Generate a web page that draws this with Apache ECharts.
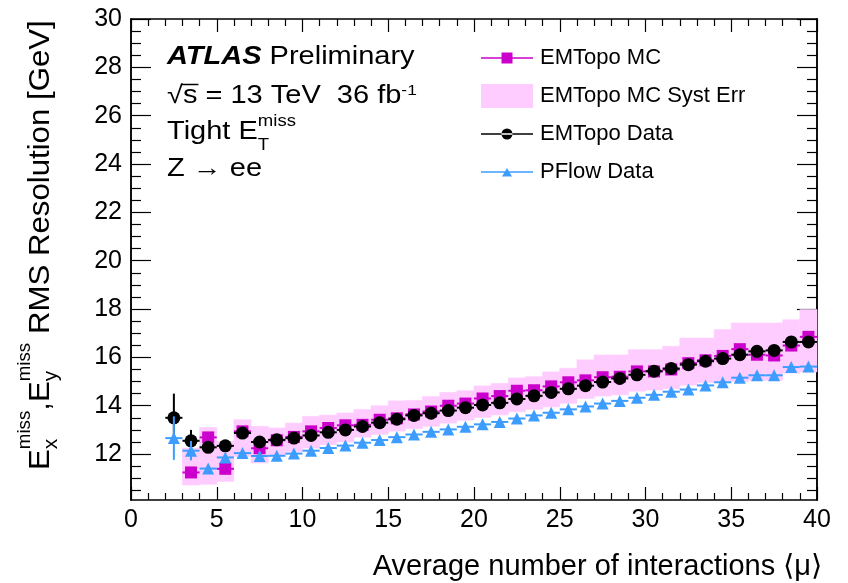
<!DOCTYPE html>
<html>
<head>
<meta charset="utf-8">
<script src="https://cdn.jsdelivr.net/npm/echarts@6/dist/echarts.min.js"></script>
<style>
html, body { margin: 0; background: #fff; }
#chart { width: 848px; height: 583px; }
</style>
</head>
<body>
<div id="chart"></div>
<script>
// bin centres of <mu>
const mu = [2.5, 3.5, 4.5, 5.5, 6.5, 7.5, 8.5, 9.5, 10.5, 11.5, 12.5, 13.5, 14.5, 15.5, 16.5, 17.5, 18.5, 19.5, 20.5,
	21.5, 22.5, 23.5, 24.5, 25.5, 26.5, 27.5, 28.5, 29.5, 30.5, 31.5, 32.5, 33.5, 34.5, 35.5, 36.5, 37.5, 38.5, 39.5]

const emtopoMC = [null, 11.24, 12.69, 11.39, 12.94, 12.24, 12.57, 12.71, 12.94, 13.08, 13.19, 13.21, 13.42, 13.48, 13.64,
	13.76, 14.0, 14.09, 14.3, 14.4, 14.62, 14.64, 14.8, 14.97, 15.05, 15.18, 15.2, 15.42, 15.42, 15.5, 15.76, 15.88, 16.06,
	16.34, 16.11, 16.08, 16.49, 16.85]

const mcSystLow = [null, 10.72, 10.75, 10.87, 11.9, 11.63, 11.9, 12.1, 12.25, 12.39, 12.5, 12.7, 12.82, 12.95, 13.05,
	13.15, 13.28, 13.4, 13.52, 13.62, 13.75, 13.85, 13.95, 14.1, 14.3, 14.4, 14.45, 14.6, 14.65, 14.7, 14.85, 14.95, 15.0,
	15.0, 15.05, 15.05, 15.35, 15.4]
const mcSystHigh = [null, 12.25, 13.1, 12.52, 13.42, 13.15, 13.08, 13.28, 13.56, 13.61, 13.7, 13.85, 14.0, 14.2, 14.22,
	14.38, 14.55, 14.62, 14.82, 14.92, 15.15, 15.2, 15.4, 15.55, 15.9, 16.1, 16.1, 16.32, 16.32, 16.46, 16.8, 16.8, 17.15,
	17.42, 17.42, 17.42, 17.56, 17.98]

const emtopoData = [13.5, 12.55, 12.28, 12.34, 12.87, 12.5, 12.59, 12.66, 12.77, 12.9, 13.0, 13.14, 13.3, 13.44, 13.6,
	13.69, 13.8, 13.92, 14.03, 14.12, 14.28, 14.41, 14.55, 14.7, 14.83, 14.98, 15.13, 15.28, 15.43, 15.54, 15.7, 15.84,
	15.95, 16.11, 16.25, 16.29, 16.64, 16.64]
const emtopoDataErr = [1.0, 0.45, 0.12, 0.1, 0.08, 0.06, 0.05, 0.05, 0.05, 0.05, 0.05, 0.05, 0.05, 0.05, 0.05, 0.05, 0.05,
	0.05, 0.05, 0.05, 0.05, 0.05, 0.05, 0.05, 0.05, 0.05, 0.05, 0.05, 0.05, 0.05, 0.05, 0.05, 0.05, 0.05, 0.05, 0.05, 0.05, 0.05]

const pflowData = [12.66, 12.14, 11.4, 11.86, 12.04, 11.92, 11.93, 12.02, 12.14, 12.25, 12.35, 12.47, 12.58, 12.7, 12.81,
	12.92, 13.02, 13.13, 13.23, 13.33, 13.47, 13.6, 13.71, 13.85, 13.97, 14.09, 14.2, 14.33, 14.45, 14.58, 14.67, 14.84,
	14.97, 15.16, 15.26, 15.26, 15.6, 15.62]
const pflowDataErr = [0.9, 0.4, 0.12, 0.1, 0.08, 0.06, 0.05, 0.05, 0.05, 0.05, 0.05, 0.05, 0.05, 0.05, 0.05, 0.05, 0.05,
	0.05, 0.05, 0.05, 0.05, 0.05, 0.05, 0.05, 0.05, 0.05, 0.05, 0.05, 0.05, 0.05, 0.05, 0.05, 0.05, 0.05, 0.05, 0.05, 0.05, 0.05]

const yMajorTicks = [12, 14, 16, 18, 20, 22, 24, 26, 28, 30]
const yMinorTicks = [10.5, 11, 11.5, 12.5, 13, 13.5, 14.5, 15, 15.5, 16.5, 17, 17.5, 18.5, 19, 19.5, 20.5, 21, 21.5,
	22.5, 23, 23.5, 24.5, 25, 25.5, 26.5, 27, 27.5, 28.5, 29, 29.5]

const FONT = '"Liberation Sans", Arial, Helvetica, sans-serif'
const MAGENTA = '#cc00cc'
const PINK = '#ffccff'
const BLUE = '#3d9dff'
const BIN_HALF = 0.5

const ctx = document.createElement('canvas').getContext('2d')
function textWidth(str, size, style) {
	ctx.font = `${style || ''} ${size}px ${FONT}`
	return ctx.measureText(str).width
}

const chart = echarts.init(document.getElementById('chart'), null, { renderer: 'canvas' })

function errorBarSeries(name, color, values, errs, z) {
	return {
		type: 'custom',
		name,
		z,
		silent: true,
		renderItem(params, api) {
			const x = api.value(0)
			const y = api.value(1)
			const e = api.value(2)
			const l = api.coord([x - BIN_HALF, y])
			const r = api.coord([x + BIN_HALF, y])
			const t = api.coord([x, y + e])
			const b = api.coord([x, y - e])
			return {
				type: 'group',
				children: [
					{ type: 'line', shape: { x1: l[0], y1: l[1], x2: r[0], y2: r[1] }, style: { stroke: color, lineWidth: 2 } },
					{ type: 'line', shape: { x1: t[0], y1: t[1], x2: b[0], y2: b[1] }, style: { stroke: color, lineWidth: 2 } },
				],
			}
		},
		encode: { x: 0, y: 1 },
		data: mu.map((m, i) => [m, values[i], errs ? errs[i] : 0]).filter(d => d[1] != null),
	}
}

function markerSeries(name, color, symbol, size, values, z) {
	return {
		type: 'scatter',
		name,
		z,
		symbol,
		symbolSize: size,
		itemStyle: { color, opacity: 1 },
		data: mu.map((m, i) => [m, values[i]]).filter(d => d[1] != null),
	}
}

const tickAxisY = (position, customValues, length, withLabels) => ({
	type: 'value',
	position,
	min: 10.1,
	max: 30,
	axisLine: { show: true, lineStyle: { color: '#000', width: 1.5 } },
	axisTick: { show: true, inside: true, length, customValues, lineStyle: { color: '#000', width: 1.2 } },
	axisLabel: withLabels
		? { show: true, customValues, fontSize: 25, fontFamily: FONT, color: '#000', margin: 9 }
		: { show: false },
	splitLine: { show: false },
})

const tickAxisX = (position, withLabels) => ({
	type: 'value',
	position,
	min: 0,
	max: 40,
	interval: 5,
	axisLine: { show: true, lineStyle: { color: '#000', width: 1.5 } },
	axisTick: { show: true, inside: true, length: 13, lineStyle: { color: '#000', width: 1.2 } },
	minorTick: { show: true, splitNumber: 5, length: 7, lineStyle: { color: '#000', width: 1.2 } },
	axisLabel: withLabels ? { show: true, fontSize: 25, fontFamily: FONT, color: '#000', margin: 8 } : { show: false },
	splitLine: { show: false },
	minorSplitLine: { show: false },
})

// y axis title, drawn bottom-to-top, with stacked sub/superscripts
const Y_T = 30, SUB = 20, SUP = 18
const yTitleParts = []
let run = 0
function addMain(str) {
	yTitleParts.push({ type: 'text', x: run, y: -11, style: { text: str, font: `${Y_T}px ${FONT}`, fill: '#000', verticalAlign: 'middle' } })
	run += textWidth(str, Y_T)
}
function addSubSup(sub, sup) {
	yTitleParts.push({ type: 'text', x: run, y: -1, style: { text: sub, font: `${SUB}px ${FONT}`, fill: '#000', verticalAlign: 'middle' } })
	yTitleParts.push({ type: 'text', x: run, y: -27, style: { text: sup, font: `${SUP}px ${FONT}`, fill: '#000', verticalAlign: 'middle' } })
	run += Math.max(textWidth(sub, SUB), textWidth(sup, SUP))
}
addMain('E'); addSubSup('x', 'miss'); addMain(',')
addMain('E'); addSubSup('y', 'miss'); addMain(' RMS Resolution [GeV]')

// plot annotations: the reference face is wider than Liberation Sans, so stretch horizontally
const ANN = 25
const WIDE = 1.16
const AX = 167
const tightW = textWidth('Tight E', ANN) * WIDE
const sqrtW = textWidth('√', ANN) * WIDE
const sqrtSW = textWidth('√s', ANN) * WIDE
const annText = (text, y, extra) => ({
	type: 'text', x: AX, y, scaleX: WIDE,
	style: Object.assign({ text, font: `${ANN}px ${FONT}`, fill: '#000', verticalAlign: 'middle' }, extra || {}),
})

const option = {
	animation: false,
	backgroundColor: '#fff',
	grid: { left: 131, right: 31, top: 19, bottom: 83 },
	xAxis: [tickAxisX('bottom', true), tickAxisX('top', false)],
	yAxis: [
		tickAxisY('left', yMajorTicks, 20, true),
		tickAxisY('left', yMinorTicks, 10, false),
		tickAxisY('right', yMajorTicks, 20, false),
		tickAxisY('right', yMinorTicks, 10, false),
	],
	legend: {
		orient: 'vertical',
		left: 476,
		top: 41,
		itemWidth: 52,
		itemHeight: 24,
		itemGap: 14,
		selectedMode: false,
		textStyle: { fontSize: 22, fontFamily: FONT, color: '#000', padding: [0, 0, 0, 2] },
		data: [
			{ name: 'EMTopo MC', icon: 'path://M0,0M52,24M0,11.2h52v1.6h-52zM20.5,6.5h11v11h-11z', itemStyle: { color: MAGENTA } },
			{ name: 'EMTopo MC Syst Err', icon: 'rect', itemStyle: { color: PINK } },
			{ name: 'EMTopo Data', icon: 'path://M0,0M52,24M0,11.2h52v1.6h-52zM20.5,12a5.5,5.5 0 1,0 11,0a5.5,5.5 0 1,0 -11,0z', itemStyle: { color: '#000' } },
			{ name: 'PFlow Data', icon: 'path://M0,0M52,24M0,11.2h52v1.6h-52zM21,16.5L26,8L31,16.5z', itemStyle: { color: BLUE } },
		],
	},
	graphic: [
		annText('{b|ATLAS} {n|Preliminary}', 57, { rich: {
			b: { font: `italic bold ${ANN}px ${FONT}`, fill: '#000' },
			n: { font: `${ANN}px ${FONT}`, fill: '#000' },
		} }),
		annText('√s = 13 TeV  36 fb{s|-1}', 96, { rich: { s: { font: `15px ${FONT}`, verticalAlign: 'top', fill: '#000' } } }),
		{ type: 'line', shape: { x1: AX + sqrtW - 1, y1: 84.5, x2: AX + sqrtSW + 1, y2: 84.5 }, style: { stroke: '#000', lineWidth: 1.5 } },
		annText('Tight E', 132),
		{ type: 'text', x: AX + tightW, y: 122, scaleX: WIDE, style: { text: 'miss', font: `16px ${FONT}`, fill: '#000', verticalAlign: 'middle' } },
		{ type: 'text', x: AX + tightW, y: 146, scaleX: WIDE, style: { text: 'T', font: `16px ${FONT}`, fill: '#000', verticalAlign: 'middle' } },
		annText('Z → ee', 169),
		{ type: 'text', x: 822, y: 567, style: { text: 'Average number of interactions ⟨μ⟩', font: `29px ${FONT}`, fill: '#000', align: 'right', verticalAlign: 'middle' } },
		{ type: 'group', x: 52, y: 470, rotation: Math.PI / 2, scaleX: 1.04, children: yTitleParts },
	],
	series: [
		{
			type: 'custom',
			name: 'EMTopo MC Syst Err',
			z: 1,
			silent: true,
			renderItem(params, api) {
				const x = api.value(0)
				const tl = api.coord([x - BIN_HALF, api.value(2)])
				const br = api.coord([x + BIN_HALF, api.value(1)])
				return {
					type: 'rect',
					shape: { x: tl[0], y: tl[1], width: br[0] - tl[0], height: br[1] - tl[1] },
					style: { fill: PINK, stroke: PINK, lineWidth: 0.6 },
				}
			},
			encode: { x: 0, y: [1, 2] },
			data: mu.map((m, i) => [m, mcSystLow[i], mcSystHigh[i]]).filter(d => d[1] != null),
		},
		errorBarSeries('EMTopo MC', MAGENTA, emtopoMC, null, 2),
		markerSeries('EMTopo MC', MAGENTA, 'rect', 12, emtopoMC, 3),
		errorBarSeries('EMTopo Data', '#000', emtopoData, emtopoDataErr, 4),
		markerSeries('EMTopo Data', '#000', 'circle', 13, emtopoData, 5),
		errorBarSeries('PFlow Data', BLUE, pflowData, pflowDataErr, 6),
		markerSeries('PFlow Data', BLUE, 'triangle', 12, pflowData, 7),
	],
}

chart.setOption(option)
</script>
</body>
</html>
